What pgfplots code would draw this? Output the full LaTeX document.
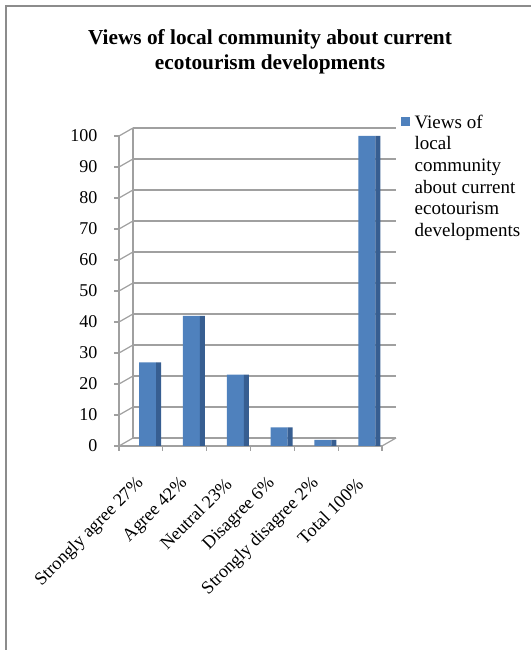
\documentclass[border=0pt]{standalone}
\usepackage{pgfplots}
\pgfplotsset{compat=1.18}
\usepackage{fontspec}
\setmainfont{Liberation Serif}
\definecolor{bTwo}{HTML}{4F81BD}
\definecolor{bThree}{HTML}{375E91}
\definecolor{gridg}{HTML}{A0A0A0}
\definecolor{frameg}{HTML}{8C8C8C}
\begin{document}
\begin{tikzpicture}
\path[use as bounding box] (0bp,0bp) rectangle (531bp,650bp);
\draw[frameg, line width=1.2bp] (6bp,0bp) -- (6bp,644bp) -- (531bp,644bp);
\node[anchor=base, font=\fontsize{21.3bp}{24bp}\selectfont\bfseries] at (270bp,605bp) {Views of local community about current};
\node[anchor=base, font=\fontsize{21.3bp}{24bp}\selectfont\bfseries] at (270bp,580bp) {ecotourism developments};
\begin{axis}[
  at={(119bp,204bp)}, anchor=south west,
  scale only axis, width=263bp, height=310bp,
  xmin=-0.5, xmax=5.5, ymin=0, ymax=100,
  axis x line*=bottom, axis y line*=left,
  axis line style={gridg, line width=1.2bp},
  tick style={gridg, line width=1.2bp},
  tick align=outside, major tick length=5bp,
  ytick={0,10,...,100},
  xtick={-0.5,0.5,...,5.5},
  x tick label as interval,
  xticklabels={Strongly agree 27\%, Agree 42\%, Neutral 23\%, Disagree 6\%, Strongly disagree 2\%, Total 100\%},
  /pgf/number format/assume math mode=true,
  yticklabel style={font=\fontsize{18bp}{20bp}\selectfont, xshift=-13bp},
  xticklabel style={font=\fontsize{18.2bp}{20bp}\selectfont, inner sep=0pt, xshift=0bp, yshift=-30bp, anchor=east, rotate=45},
  legend style={at={(1.072,1.075)}, anchor=north west, draw=none, fill=none, inner sep=0pt,
    font=\fontsize{19bp}{21.7bp}\selectfont, nodes={inner sep=0pt}},
  legend image code/.code={\fill[bTwo] (0bp,-4.4bp) rectangle (9bp,4.6bp);},
  /tikz/every odd column/.append style={column sep=4.5bp},
  clip=false,
]
\pgfplotsinvokeforeach{0,10,20,30,40,50,60,70,80,90,100}{
  \draw[gridg, line width=1.5bp] ([xshift=14bp,yshift=8bp]axis cs:-0.5,#1) -- ([xshift=14bp,yshift=8bp]axis cs:5.5,#1);
  \draw[gridg, line width=1.2bp] (axis cs:-0.5,#1) -- ([xshift=14bp,yshift=8bp]axis cs:-0.5,#1);
}
\draw[gridg, line width=1.2bp] ([xshift=14bp,yshift=8bp]axis cs:-0.5,0) -- ([xshift=14bp,yshift=8bp]axis cs:-0.5,100);
\draw[gridg, line width=1.2bp] (axis cs:5.5,0) -- ([xshift=14bp,yshift=8bp]axis cs:5.5,0);
\addplot[ybar, bar width=17bp, bar shift=6.7bp, fill=bTwo, draw=none]
  coordinates {(0,27) (1,42) (2,23) (3,6) (4,2) (5,100)};
\addlegendentry{\begin{tabular}[t]{@{}l@{}}Views of\\local\\community\\about current\\ecotourism\\developments\end{tabular}}
\addplot[ybar, bar width=5bp, bar shift=17.7bp, fill=bThree, draw=none, forget plot]
  coordinates {(0,27) (1,42) (2,23) (3,6) (4,2) (5,100)};
\end{axis}
\end{tikzpicture}
\end{document}
